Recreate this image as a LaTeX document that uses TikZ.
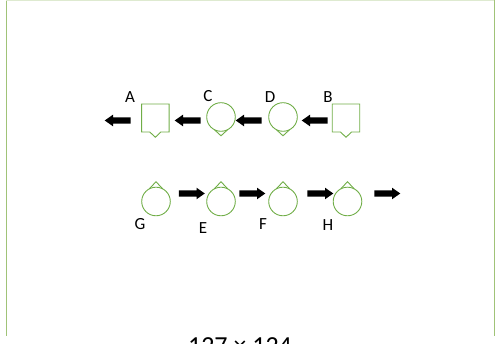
\documentclass[tikz,border=0pt]{standalone}
\usepackage{fontspec}
\setmainfont{Carlito}
\usetikzlibrary{shapes.arrows}
\definecolor{shpgreen}{RGB}{112,173,71}
\definecolor{framegreen}{RGB}{160,195,120}
\begin{document}
\begin{tikzpicture}[x=1pt,y=1pt,
  shp/.style={draw=shpgreen, line width=0.9pt, line join=miter},
  circ/.style={circle, draw=shpgreen, line width=0.9pt, inner sep=0pt, outer sep=0pt, minimum size=28.6pt},
  sqr/.style={rectangle, draw=none, inner sep=0pt, outer sep=0pt, minimum width=27.5pt, minimum height=28pt},
  blk/.style={single arrow, fill=black, draw=none, inner xsep=0pt, inner ysep=3pt, outer sep=0pt,
    minimum height=26pt, single arrow head extend=2.6pt,
    single arrow head indent=0pt, single arrow tip angle=70},
  lbl/.style={font=\fontsize{17}{20}\selectfont, inner sep=0pt}]
\useasboundingbox (0,0) rectangle (495,344);
\clip (0,0) rectangle (495,344);
% frame
\draw[framegreen, line width=0.8pt] (6,344) -- (6,8);
\draw[framegreen, line width=0.8pt] (494,344) -- (494,8);
\draw[framegreen!35, line width=0.6pt] (6,343.6) -- (494,343.6);
% row 1 shapes
\node[sqr] (A) at (155.3,226) {};
\node[circ] (C) at (221,227) {};
\node[circ] (D) at (283,227) {};
\node[sqr] (B) at (346,226) {};
\foreach \n in {A,B}{
  \draw[shp] ([xshift=-5.5pt]\n.south) -- (\n.south west) -- (\n.north west) -- (\n.north east) -- (\n.south east) -- ([xshift=5.5pt]\n.south) -- ([yshift=-5.3pt]\n.south) -- cycle;
}
\foreach \n in {C,D}{
  \draw[shp] (\n.-62) -- ([yshift=-4.5pt]\n.south) -- (\n.-118);
}
% row 1 arrows (pointing left)
\node[blk, shape border rotate=180] (a1) at (120,223.5) {};
\node[blk, shape border rotate=180] (a2) at (190,223.5) {};
\node[blk, shape border rotate=180] (a3) at (251,223.5) {};
\node[blk, shape border rotate=180] (a4) at (317,223.5) {};
% row 1 labels
\node[lbl] (lA) at (130,247) {A};
\node[lbl] (lC) at (208,248) {C};
\node[lbl] (lD) at (270,247) {D};
\node[lbl] (lB) at (328,247) {B};
% row 2 shapes
\node[circ] (G) at (156,142.5) {};
\node[circ] (E) at (221,142.5) {};
\node[circ] (F) at (283,142.5) {};
\node[circ] (H) at (347.5,142.5) {};
\foreach \n in {G,E,F,H}{
  \draw[shp] (\n.62) -- ([yshift=5.5pt]\n.north) -- (\n.118);
}
% row 2 arrows (pointing right)
\node[blk] (b1) at (189.5,150.5) {};
\node[blk] (b2) at (250,150.5) {};
\node[blk] (b3) at (318,150.5) {};
\node[blk] (b4) at (385,150.5) {};
% row 2 labels
\node[lbl] (lG) at (140,120) {G};
\node[lbl] (lE) at (203,116) {E};
\node[lbl] (lF) at (263,120) {F};
\node[lbl] (lH) at (328,119) {H};
% cut-off caption
\node[font=\fontsize{26}{30}\selectfont, anchor=base, inner sep=0pt] (cap) at (240,-11) {127 × 124};
\end{tikzpicture}
\end{document}
